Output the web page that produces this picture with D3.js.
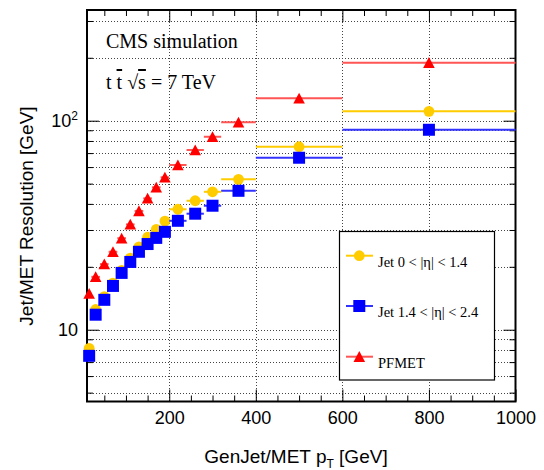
<!DOCTYPE html>
<html><head><meta charset="utf-8">
<script src="https://cdn.jsdelivr.net/npm/d3@7"></script>
<style>
body{margin:0;background:#fff;}
svg{display:block;}
</style></head>
<body>
<svg id="chart" width="544" height="470"></svg>
<script>
// ---- data ----
const binLow  = [10, 20, 40, 60, 80, 100, 120, 140, 160, 180, 200, 240, 280, 320, 400, 600];
const binHigh = [20, 40, 60, 80, 100, 120, 140, 160, 180, 200, 240, 280, 320, 400, 600, 1000];
const jetCentral = [8.15, 12.5, 14.4, 16.7, 19.2, 22.0, 24.9, 27.7, 30.2, 33.1, 37.7, 41.4, 45.7, 52.4, 75.1, 110.9];
const jetForward = [7.5, 11.8, 13.9, 16.2, 18.7, 21.1, 23.6, 25.7, 27.5, 29.4, 33.2, 35.9, 39.2, 46.2, 66.5, 90.5];
const pfmet      = [14.9, 17.9, 20.6, 23.6, 27.4, 31.9, 37.0, 42.5, 48.0, 53.6, 61.4, 72.4, 83.8, 98.3, 128, 189.5];
const seriesNames = ["Jet 0 < |\u03b7| < 1.4", "Jet 1.4 < |\u03b7| < 2.4", "PFMET"];
const xTickLabels = [200, 400, 600, 800, 1000];
const yTickLabels = [10, 100];

const svg = d3.select("#chart");
const L = 87, R = 515.5, T = 10, B = 401.5;
const x = d3.scaleLinear().domain([10, 1000]).range([L, R]);
const y = d3.scaleLog().domain([4.535, 338.6]).range([B, T]);

const sans = "'Liberation Sans', Arial, Helvetica, sans-serif";
const serif = "'Liberation Serif', 'Times New Roman', serif";

// grid
const yMinor = [];
[1, 10, 100].forEach(d => { for (let k = 1; k < 10; k++) { const v = d * k; if (v >= 4.535 && v <= 338.6) yMinor.push(v); } });
const xMajor = [200, 400, 600, 800];
const xMinor = d3.range(50, 1000, 50).filter(v => v % 200 !== 0);
const grid = svg.append("g").attr("stroke", "#444").attr("stroke-width", 1).attr("stroke-dasharray", "1,2");
grid.selectAll("line.h").data(yMinor).join("line")
  .attr("x1", L).attr("x2", R).attr("y1", d => Math.round(y(d)) + 0.5).attr("y2", d => Math.round(y(d)) + 0.5);
grid.selectAll("line.v").data(xMajor).join("line")
  .attr("y1", T).attr("y2", B).attr("x1", d => Math.round(x(d)) + 0.5).attr("x2", d => Math.round(x(d)) + 0.5);

// axes
function styleAxis(g) {
  g.select(".domain").remove();
  g.selectAll(".tick line").attr("stroke", "#000").attr("stroke-width", 1);
  g.selectAll("text").attr("font-family", sans).attr("font-size", 18).attr("fill", "#000");
}
const yMajorTicks = yMinor.filter(v => v === 10 || v === 100);
const yMinorTicks = yMinor.filter(v => v !== 10 && v !== 100);

svg.append("g").attr("transform", `translate(0,${B})`)
  .call(d3.axisBottom(x).tickValues(xTickLabels).tickSize(-12).tickPadding(10).tickFormat(d3.format("d")))
  .call(styleAxis);
svg.append("g").attr("transform", `translate(0,${B})`)
  .call(d3.axisBottom(x).tickValues(xMinor).tickSize(-6).tickFormat(""))
  .call(styleAxis);
svg.append("g").attr("transform", `translate(0,${T})`)
  .call(d3.axisTop(x).tickValues(xMajor).tickSize(-12).tickFormat(""))
  .call(styleAxis);
svg.append("g").attr("transform", `translate(0,${T})`)
  .call(d3.axisTop(x).tickValues(xMinor).tickSize(-6).tickFormat(""))
  .call(styleAxis);

const yAx = svg.append("g").attr("transform", `translate(${L},0)`)
  .call(d3.axisLeft(y).tickValues(yTickLabels).tickSize(-12).tickPadding(9).tickFormat(d => ""))
  .call(styleAxis);
yAx.selectAll(".tick text").each(function(d) {
  const t = d3.select(this);
  if (d === 100) {
    t.append("tspan").text("10");
    t.append("tspan").attr("font-size", 12).attr("dy", "-0.6em").text("2");
  } else {
    t.text(String(d));
  }
});
svg.append("g").attr("transform", `translate(${L},0)`)
  .call(d3.axisLeft(y).tickValues(yMinorTicks).tickSize(-6).tickFormat(""))
  .call(styleAxis);
svg.append("g").attr("transform", `translate(${R},0)`)
  .call(d3.axisRight(y).tickValues(yMajorTicks).tickSize(-12).tickFormat(""))
  .call(styleAxis);
svg.append("g").attr("transform", `translate(${R},0)`)
  .call(d3.axisRight(y).tickValues(yMinorTicks).tickSize(-6).tickFormat(""))
  .call(styleAxis);

// frame
svg.append("rect").attr("x", L).attr("y", T).attr("width", R - L).attr("height", B - T)
  .attr("fill", "none").attr("stroke", "#000").attr("stroke-width", 2);

// axis titles
const xt = svg.append("text").attr("x", 296).attr("y", 463).attr("text-anchor", "middle")
  .attr("font-family", sans).attr("font-size", 19);
xt.append("tspan").text("GenJet/MET p");
xt.append("tspan").attr("font-size", 12).attr("dy", 5).text("T");
xt.append("tspan").attr("dy", -5).text(" [GeV]");
svg.append("text").attr("transform", "translate(33,216) rotate(-90)").attr("text-anchor", "middle")
  .attr("font-family", sans).attr("font-size", 19).text("Jet/MET Resolution [GeV]");

// series
const idx = d3.range(binLow.length);
const series = [
  {vals: jetCentral, color: "#ffcc00", line: "#ffcc00", shape: "circle"},
  {vals: jetForward, color: "#0000ff", line: "#3333ff", shape: "square"},
  {vals: pfmet,      color: "#ff0000", line: "#ff5555", shape: "triangle"}
];
function markerPath(shape) {
  if (shape === "circle") return d3.symbol(d3.symbolCircle, Math.PI * 5.4 * 5.4)();
  if (shape === "square") return "M-6,-6H6V6H-6Z";
  return "M0,-5.6L5.8,5.2L-5.8,5.2Z";
}
const data = svg.append("g");
series.forEach(s => {
  const g = data.append("g");
  g.selectAll("line").data(idx).join("line")
    .attr("x1", i => x(binLow[i])).attr("x2", i => x(binHigh[i]))
    .attr("y1", i => y(s.vals[i])).attr("y2", i => y(s.vals[i]))
    .attr("stroke", s.line).attr("stroke-width", 2);
  g.selectAll("path").data(idx).join("path")
    .attr("d", markerPath(s.shape))
    .attr("transform", i => `translate(${x((binLow[i] + binHigh[i]) / 2)},${y(s.vals[i])})`)
    .attr("fill", s.color);
});

// texts
svg.append("text").attr("x", 106).attr("y", 48).attr("font-family", serif).attr("font-size", 20).text("CMS simulation");
const tt = svg.append("text").attr("x", 106).attr("y", 89).attr("font-family", serif).attr("font-size", 20);
tt.append("tspan").text("t ");
tt.append("tspan").attr("style", "text-decoration: overline").text("t");
tt.append("tspan").text("  \u221A");
tt.append("tspan").attr("style", "text-decoration: overline").text("s");
tt.append("tspan").text(" = 7 TeV");

// legend
const lg = svg.append("g");
lg.append("rect").attr("x", 339.5).attr("y", 231.5).attr("width", 155).attr("height", 148.5)
  .attr("fill", "#fff").attr("stroke", "#000").attr("stroke-width", 1.2);
const legY = [255.7, 306, 356.7];
series.forEach((s, i) => {
  lg.append("line").attr("x1", 346).attr("x2", 373).attr("y1", legY[i]).attr("y2", legY[i])
    .attr("stroke", s.line).attr("stroke-width", 2);
  lg.append("path").attr("d", markerPath(s.shape)).attr("transform", `translate(359.3,${legY[i]})`).attr("fill", s.color);
  lg.append("text").attr("x", 378).attr("y", legY[i] + 11).attr("font-family", serif).attr("font-size", 14.5)
    .text(seriesNames[i]);
});
</script>
</body></html>
